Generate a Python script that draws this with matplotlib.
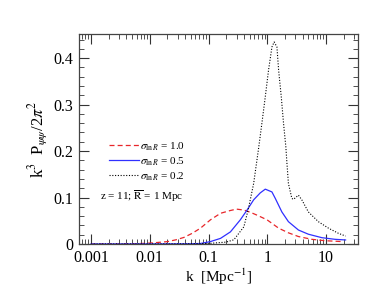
import matplotlib
matplotlib.use("Agg")
import matplotlib.pyplot as plt
from matplotlib.ticker import FixedLocator, NullFormatter, LogLocator

# sigma_lnR = 1.0 (red dashed)
k_red = [0.001, 0.003, 0.006, 0.009, 0.013, 0.020, 0.028, 0.038, 0.053, 0.073, 0.108, 0.16, 0.235,
         0.30, 0.40, 0.52, 0.67, 0.99, 1.56, 2.29, 3.39, 5.7, 9.6, 19.6]
p_red = [0.0, 0.0002, 0.0007, 0.0015, 0.003, 0.005, 0.009, 0.014, 0.023, 0.034, 0.052, 0.066, 0.072,
         0.075, 0.073, 0.068, 0.062, 0.052, 0.034, 0.024, 0.016, 0.010, 0.007, 0.005]

# sigma_lnR = 0.5 (blue solid)
k_blue = [0.001, 0.01, 0.03, 0.05, 0.073, 0.107, 0.16, 0.236, 0.348, 0.453, 0.586, 0.76, 0.925,
          1.2, 1.37, 1.77, 2.29, 3.39, 5.0, 8.5, 14.2, 21.5]
p_blue = [0.0, 0.0001, 0.0003, 0.0005, 0.001, 0.005, 0.012, 0.026, 0.052, 0.073, 0.095, 0.110, 0.118,
          0.112, 0.098, 0.069, 0.048, 0.030, 0.021, 0.0135, 0.010, 0.0086]

# sigma_lnR = 0.2 (black dotted)
k_blk = [0.001, 0.03, 0.1, 0.2, 0.27, 0.40, 0.48, 0.586, 0.71, 0.81, 0.925, 1.05, 1.2, 1.31,
         1.46, 1.56, 1.73, 1.89, 2.07, 2.16, 2.29, 2.62, 2.79, 3.39, 3.87, 5.0, 7.4, 11.0, 16.2, 21.5]
p_blk = [0.0, 0.0001, 0.001, 0.004, 0.009, 0.037, 0.077, 0.13, 0.205, 0.26, 0.317, 0.374, 0.424, 0.435,
         0.424, 0.374, 0.317, 0.26, 0.209, 0.174, 0.13, 0.098, 0.096, 0.105, 0.095, 0.069, 0.048, 0.034, 0.023, 0.017]

labels = [r"$\sigma_{\ln R}$ = 1.0", r"$\sigma_{\ln R}$ = 0.5", r"$\sigma_{\ln R}$ = 0.2"]
xticks = [0.001, 0.01, 0.1, 1, 10]
xticklabels = ["0.001", "0.01", "0.1", "1", "10"]
yticks = [0, 0.1, 0.2, 0.3, 0.4]
yticklabels = ["0", "0.1", "0.2", "0.3", "0.4"]

plt.rcParams['font.family'] = ['Liberation Serif', 'DejaVu Serif']
plt.rcParams['mathtext.fontset'] = 'stix'

fig = plt.figure(figsize=(3.9, 2.86), dpi=100)
ax = fig.add_axes([0.203, 0.147, 0.715, 0.734])

ax.plot(k_red, p_red, color='#e8262a', ls=(0, (4, 2.5)), lw=0.9, label=labels[0])
ax.plot(k_blue, p_blue, color='#3030ff', ls='-', lw=0.9, label=labels[1])
ax.plot(k_blk, p_blk, color='black', ls=(0, (1, 1.5)), lw=0.8, label=labels[2])

ax.set_xscale('log')
ax.set_xlim(0.00063, 35)
ax.set_ylim(0, 0.452)
ax.set_xticks(xticks)
ax.set_xticklabels(xticklabels)
ax.set_yticks(yticks)
ax.set_yticklabels(yticklabels)
ax.xaxis.set_minor_locator(LogLocator(base=10, subs=range(2, 10), numticks=20))
ax.xaxis.set_minor_formatter(NullFormatter())
ax.yaxis.set_minor_locator(FixedLocator([i * 0.02 for i in range(23)]))

ax.tick_params(which='both', direction='in', top=True, right=True, labelsize=11.5, colors='#333333', labelcolor='black')
ax.tick_params(which='major', length=7, width=0.8, pad=4)
ax.tick_params(which='minor', length=3.5, width=0.6)
for s in ax.spines.values():
    s.set_color('#444444')
    s.set_linewidth(0.9)

ax.set_xlabel(r"k  [Mpc$^{-1}$]", fontsize=11, labelpad=1)
ax.set_ylabel(r"k$^3$  P$_{\psi\psi}$/2$\pi^2$", fontsize=12, labelpad=3)

leg = ax.legend(loc='upper left', bbox_to_anchor=(0.092, 0.515), frameon=False,
                fontsize=8, handlelength=2.7, handletextpad=0.1, labelspacing=0.22,
                borderaxespad=0)
ax.text(0.075, 0.229, r"z = 11; $\overline{\rm R}$ = 1 Mpc", transform=ax.transAxes,
        fontsize=8, va='center', ha='left')

fig.savefig("out.png", dpi=100)
